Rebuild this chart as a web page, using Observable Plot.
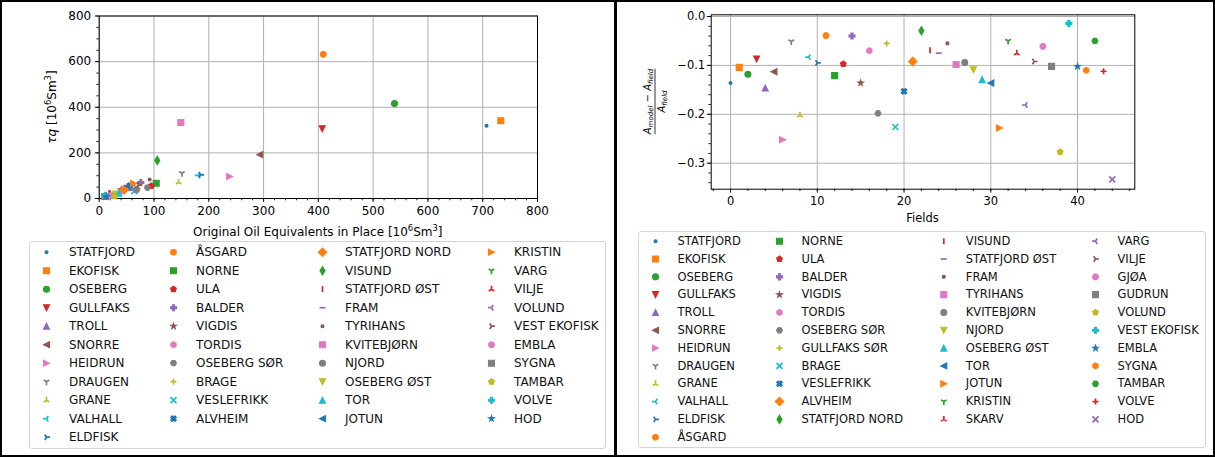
<!DOCTYPE html>
<html><head><meta charset="utf-8">
<script src="https://cdn.jsdelivr.net/npm/d3@7"></script>
<script src="https://cdn.jsdelivr.net/npm/@observablehq/plot@0.6"></script>
<style>
body{margin:0;background:#fff;font-family:"DejaVu Sans",sans-serif;}
#page{position:relative;width:1215px;height:457px;overflow:hidden;background:#fff;}
.box{position:absolute;border:2px solid #000;box-sizing:border-box;z-index:5;pointer-events:none;}
.legend{position:absolute;border:1px solid #d4d4d4;border-radius:3px;box-sizing:border-box;background:#fff;overflow:hidden;}
</style></head><body><div id="page"></div>
<script>
// ---------------- data ----------------
const leftFields = ["STATFJORD","EKOFISK","OSEBERG","GULLFAKS","TROLL","SNORRE","HEIDRUN","DRAUGEN","GRANE","VALHALL","ELDFISK",
  "ÅSGARD","NORNE","ULA","BALDER","VIGDIS","TORDIS","OSEBERG SØR","BRAGE","VESLEFRIKK","ALVHEIM",
  "STATFJORD NORD","VISUND","STATFJORD ØST","FRAM","TYRIHANS","KVITEBJØRN","NJORD","OSEBERG ØST","TOR","JOTUN",
  "KRISTIN","VARG","VILJE","VOLUND","VEST EKOFISK","EMBLA","SYGNA","TAMBAR","VOLVE","HOD"];
const leftOOIP = [707,733,539,407,55,293,238,151,145,181,185,
  409,104,95,76,40,44,88,70,64,56,
  46,106,18,60,92,149,68,30,36,52,
  63,26,20,22,72,20,10,28,11,13];
const leftTauQ = [319,341,416,306,48,192,96,111,71,101,104,
  632,67,55,70,38,32,48,45,32,57,
  40,167,24,58,83,333,40,20,23,55,
  66,15,20,13,60,12,9,10,14,8];

const rightFields = ["STATFJORD","EKOFISK","OSEBERG","GULLFAKS","TROLL","SNORRE","HEIDRUN","DRAUGEN","GRANE","VALHALL","ELDFISK","ÅSGARD",
  "NORNE","ULA","BALDER","VIGDIS","TORDIS","OSEBERG SØR","GULLFAKS SØR","BRAGE","VESLEFRIKK","ALVHEIM","STATFJORD NORD",
  "VISUND","STATFJORD ØST","FRAM","TYRIHANS","KVITEBJØRN","NJORD","OSEBERG ØST","TOR","JOTUN","KRISTIN","SKARV",
  "VARG","VILJE","GJØA","GUDRUN","VOLUND","VEST EKOFISK","EMBLA","SYGNA","TAMBAR","VOLVE","HOD"];
const rightError = [-0.136,-0.104,-0.118,-0.087,-0.146,-0.113,-0.252,-0.051,-0.202,-0.083,-0.095,-0.039,
  -0.121,-0.097,-0.040,-0.136,-0.070,-0.198,-0.055,-0.226,-0.153,-0.092,-0.029,
  -0.069,-0.075,-0.055,-0.098,-0.094,-0.109,-0.129,-0.136,-0.228,-0.050,-0.075,
  -0.181,-0.092,-0.061,-0.102,-0.277,-0.014,-0.102,-0.110,-0.050,-0.112,-0.333];

const leftXTicks = [0,100,200,300,400,500,600,700,800];
const leftYTicks = [0,200,400,600,800];
const rightXTicks = [0,10,20,30,40];
const rightYTicks = [0,-0.1,-0.2,-0.3];

const tab10 = ["#1f77b4","#ff7f0e","#2ca02c","#d62728","#9467bd","#8c564b","#e377c2","#7f7f7f","#bcbd22","#17becf"];
const markerCycle = [".","s","o","v","^","<",">","1","2","3","4","8","s","p","P","*","h","H","+","x","X","D","d","|","_"];
const lineMarkers = new Set(["1","2","3","4","+","x","|","_"]);

// ---------------- marker symbols (matplotlib-like) ----------------
function poly(ctx, pts){ ctx.moveTo(pts[0][0], pts[0][1]); for (let i = 1; i < pts.length; i++) ctx.lineTo(pts[i][0], pts[i][1]); ctx.closePath(); }
function segs(ctx, pairs){ for (const [a, b] of pairs){ ctx.moveTo(a[0], a[1]); ctx.lineTo(b[0], b[1]); } }
function regular(n, r, a0){ return d3.range(n).map(k => [r*Math.cos(a0 + 2*Math.PI*k/n), r*Math.sin(a0 + 2*Math.PI*k/n)]); }
function rot(pts, a){ const c = Math.cos(a), s = Math.sin(a); return pts.map(([x, y]) => [x*c - y*s, x*s + y*c]); }
function markerSymbol(code){
  return {draw(ctx, size){
    const r = Math.sqrt(size / Math.PI);
    const t = r * 1.15;
    const u = r / 3;
    const plusPts = [[-u,-3*u],[u,-3*u],[u,-u],[3*u,-u],[3*u,u],[u,u],[u,3*u],[-u,3*u],[-u,u],[-3*u,u],[-3*u,-u],[-u,-u]];
    switch (code) {
      case ".": ctx.moveTo(r*0.5, 0); ctx.arc(0, 0, r*0.5, 0, 2*Math.PI); break;
      case "o": ctx.moveTo(r, 0); ctx.arc(0, 0, r, 0, 2*Math.PI); break;
      case "8": poly(ctx, regular(8, r, Math.PI/8)); break;
      case "s": poly(ctx, [[-r,-r],[r,-r],[r,r],[-r,r]]); break;
      case "v": poly(ctx, [[0,r],[-r,-r],[r,-r]]); break;
      case "^": poly(ctx, [[0,-r],[-r,r],[r,r]]); break;
      case "<": poly(ctx, [[-r,0],[r,-r],[r,r]]); break;
      case ">": poly(ctx, [[r,0],[-r,-r],[-r,r]]); break;
      case "1": segs(ctx, [[[0,0],[0,t]],[[0,0],[0.8*t,-0.5*t]],[[0,0],[-0.8*t,-0.5*t]]]); break;
      case "2": segs(ctx, [[[0,0],[0,-t]],[[0,0],[0.8*t,0.5*t]],[[0,0],[-0.8*t,0.5*t]]]); break;
      case "3": segs(ctx, [[[0,0],[-t,0]],[[0,0],[0.5*t,0.8*t]],[[0,0],[0.5*t,-0.8*t]]]); break;
      case "4": segs(ctx, [[[0,0],[t,0]],[[0,0],[-0.5*t,0.8*t]],[[0,0],[-0.5*t,-0.8*t]]]); break;
      case "p": poly(ctx, regular(5, r, -Math.PI/2)); break;
      case "P": poly(ctx, plusPts); break;
      case "X": poly(ctx, rot(plusPts, Math.PI/4)); break;
      case "*": {
        const pts = [];
        for (let k = 0; k < 10; k++) { const rr = k % 2 ? r*0.381966 : r; const a = -Math.PI/2 + k*Math.PI/5; pts.push([rr*Math.cos(a), rr*Math.sin(a)]); }
        poly(ctx, pts); break;
      }
      case "h": poly(ctx, regular(6, r, -Math.PI/2)); break;
      case "H": poly(ctx, regular(6, r, 0)); break;
      case "+": segs(ctx, [[[-r,0],[r,0]],[[0,-r],[0,r]]]); break;
      case "x": segs(ctx, [[[-r,-r],[r,r]],[[-r,r],[r,-r]]]); break;
      case "D": { const q = r*Math.SQRT2; poly(ctx, [[0,-q],[q,0],[0,q],[-q,0]]); break; }
      case "d": { const q = r*Math.SQRT2; poly(ctx, [[0,-q],[0.6*q,0],[0,q],[-0.6*q,0]]); break; }
      case "|": segs(ctx, [[[0,-r],[0,r]]]); break;
      case "_": segs(ctx, [[[-r,0],[r,0]]]); break;
    }
  }};
}
const colorScale = fields => ({domain: fields, range: fields.map((_, i) => tab10[i % 10])});
const symbolScale = fields => ({domain: fields, range: fields.map((_, i) => markerSymbol(markerCycle[i % 25]))});
const widthOf = d => lineMarkers.has(markerCycle[d.i % 25]) ? 1.7 : 1.1;

// ---------------- scatter panels ----------------
function scatter(o){
  return Plot.plot({
    width: o.width, height: o.height,
    marginLeft: o.ml, marginRight: o.mr, marginTop: o.mt, marginBottom: o.mb,
    style: {background: "transparent", fontFamily: "DejaVu Sans", fontSize: o.fontSize + "px", color: "#000", overflow: "visible"},
    x: {domain: o.xDomain, label: null},
    y: {domain: o.yDomain, label: null},
    color: colorScale(o.fields),
    symbol: symbolScale(o.fields),
    marks: [
      Plot.gridX({ticks: o.xMajor, stroke: "#b0b0b0", strokeOpacity: 1, strokeWidth: 1}),
      Plot.gridY({ticks: o.yMajor, stroke: "#b0b0b0", strokeOpacity: 1, strokeWidth: 1}),
      Plot.axisX({ticks: o.xMinor, tickSize: 2.3, tickFormat: () => "", label: null, strokeWidth: 0.9}),
      Plot.axisX({ticks: o.xMajor, tickSize: 4, tickPadding: o.xPad, tickFormat: o.xFmt, label: null, strokeWidth: 0.9}),
      Plot.axisY({ticks: o.yMinor, tickSize: 2.3, tickFormat: () => "", label: null, strokeWidth: 0.9}),
      Plot.axisY({ticks: o.yMajor, tickSize: 4, tickPadding: o.yPad, tickFormat: o.yFmt, label: null, strokeWidth: 0.9}),
      Plot.frame({stroke: "#000", strokeWidth: 1}),
      Plot.dot(o.data, {x: "x", y: "y", symbol: "name", fill: "name", stroke: "name", strokeWidth: widthOf, r: 3})
    ]
  });
}

// ---------------- legends ----------------
function legendPlot(o){
  const entries = o.fields.map((name, i) => {
    let col, row;
    if (i < o.rowsFirst) { col = 0; row = i; }
    else { col = 1 + Math.floor((i - o.rowsFirst) / o.rowsOther); row = (i - o.rowsFirst) % o.rowsOther; }
    return {name, i, col, row};
  });
  return Plot.plot({
    width: o.width, height: o.height, margin: 0,
    style: {background: "transparent", fontFamily: "DejaVu Sans", fontSize: o.fontSize + "px", color: "#000", overflow: "visible"},
    x: {type: "linear", domain: [0, 1, 2, 3], range: o.colX, axis: null},
    y: {type: "linear", domain: [0, o.rowsFirst - 1], range: [o.y0, o.y0 + (o.rowsFirst - 1) * o.dy], axis: null},
    color: colorScale(o.fields),
    symbol: symbolScale(o.fields),
    marks: [
      Plot.dot(entries, {x: "col", y: "row", symbol: "name", fill: "name", stroke: "name", strokeWidth: widthOf, r: 3}),
      Plot.text(entries, {x: "col", y: "row", text: "name", dx: o.textDx, textAnchor: "start", fill: "#111", fontSize: o.fontSize})
    ]
  });
}

const page = document.getElementById("page");
function place(el, left, top, z){ el.style.position = "absolute"; el.style.left = left + "px"; el.style.top = top + "px"; if (z) el.style.zIndex = z; page.appendChild(el); return el; }

// left scatter
const leftData = leftFields.map((name, i) => ({name, i, x: leftOOIP[i], y: leftTauQ[i]}));
place(scatter({
  fields: leftFields, data: leftData, width: 614, height: 232,
  ml: 98.7, mr: 77, mt: 15.5, mb: 34,
  xDomain: [0, 800], yDomain: [0, 800],
  xMajor: leftXTicks, xMinor: d3.range(0, 801, 20),
  yMajor: leftYTicks, yMinor: d3.range(0, 801, 50),
  xFmt: d => String(d), yFmt: d => String(d),
  xPad: 4, yPad: 4, fontSize: 12
}), 0, 0, 1);

// right scatter
const rightData = rightFields.map((name, i) => ({name, i, x: i, y: rightError[i]}));
place(scatter({
  fields: rightFields, data: rightData, width: 600, height: 232,
  ml: 95.7, mr: 80.7, mt: 14.3, mb: 43.3,
  xDomain: [-2.23, 46.6], yDomain: [-0.3532, 0.0035],
  xMajor: rightXTicks, xMinor: d3.range(-2, 47, 2),
  yMajor: rightYTicks, yMinor: d3.range(-34, 1, 2).map(v => v / 100),
  xFmt: d => String(d), yFmt: d => d === 0 ? "0.0" : "\u2212" + (-d).toFixed(1),
  xPad: 4, yPad: 2, fontSize: 11.5
}), 615, 0, 1);

// left legend
const lg1 = document.createElement("div"); lg1.className = "legend";
lg1.style.left = "29px"; lg1.style.top = "241px"; lg1.style.width = "577px"; lg1.style.height = "208px"; lg1.style.zIndex = 2;
lg1.appendChild(legendPlot({fields: leftFields, rowsFirst: 11, rowsOther: 10, width: 575, height: 206,
  colX: [16, 143, 292, 461], y0: 9.7, dy: 18.5, textDx: 22.5, fontSize: 12}));
page.appendChild(lg1);

// right legend
const lg2 = document.createElement("div"); lg2.className = "legend";
lg2.style.left = "638px"; lg2.style.top = "231px"; lg2.style.width = "568px"; lg2.style.height = "217px"; lg2.style.zIndex = 2;
lg2.appendChild(legendPlot({fields: rightFields, rowsFirst: 12, rowsOther: 11, width: 566, height: 215,
  colX: [16, 140, 304.3, 456], y0: 8.7, dy: 17.82, textDx: 22, fontSize: 11.5}));
page.appendChild(lg2);

// axis labels overlay
const ov = d3.select(page).append("svg").attr("width", 1215).attr("height", 457)
  .style("position", "absolute").style("left", 0).style("top", 0).style("z-index", 3).style("pointer-events", "none")
  .attr("font-family", "DejaVu Sans").attr("fill", "#000");
function rich(text, parts, base){
  let shift = 0;
  for (const p of parts) {
    const ts = text.append("tspan").text(p.t);
    const target = p.sup ? -base*0.42 : p.sub ? base*0.22 : 0;
    if (target - shift !== 0) ts.attr("dy", target - shift);
    shift = target;
    if (p.sup || p.sub) ts.attr("font-size", base*0.7);
    if (p.it) ts.attr("font-style", "italic");
  }
  return text;
}
rich(ov.append("text").attr("x", 317.8).attr("y", 236).attr("text-anchor", "middle").attr("font-size", 12),
  [{t: "Original Oil Equivalents in Place [10"}, {t: "6", sup: true}, {t: "Sm"}, {t: "3", sup: true}, {t: "]"}], 12);
rich(ov.append("g").attr("transform", "translate(56,107) rotate(-90)").append("text").attr("text-anchor", "middle").attr("font-size", 12),
  [{t: "τq", it: true}, {t: " [10"}, {t: "6", sup: true}, {t: "Sm"}, {t: "3", sup: true}, {t: "]"}], 12);
ov.append("text").attr("x", 922.5).attr("y", 222).attr("text-anchor", "middle").attr("font-size", 11.5).text("Fields");
const fr = ov.append("g").attr("transform", "translate(654,101.5) rotate(-90)");
const num = rich(fr.append("text").attr("y", -3).attr("text-anchor", "middle").attr("font-size", 10),
  [{t: "A", it: true}, {t: "model", sub: true, it: true}, {t: " \u2212 "}, {t: "A", it: true}, {t: "field", sub: true, it: true}], 10);
rich(fr.append("text").attr("y", 10.5).attr("text-anchor", "middle").attr("font-size", 10),
  [{t: "A", it: true}, {t: "field", sub: true, it: true}], 10);
const nw = num.node().getComputedTextLength ? num.node().getComputedTextLength() : 56;
fr.append("line").attr("x1", -nw/2).attr("x2", nw/2).attr("y1", 1).attr("y2", 1).attr("stroke", "#000").attr("stroke-width", 0.8);

// panel borders
const b1 = document.createElement("div"); b1.className = "box";
b1.style.left = "0px"; b1.style.top = "0px"; b1.style.width = "617px"; b1.style.height = "457px"; page.appendChild(b1);
const b2 = document.createElement("div"); b2.className = "box";
b2.style.left = "614px"; b2.style.top = "0px"; b2.style.width = "601px"; b2.style.height = "457px"; page.appendChild(b2);
</script></body></html>
